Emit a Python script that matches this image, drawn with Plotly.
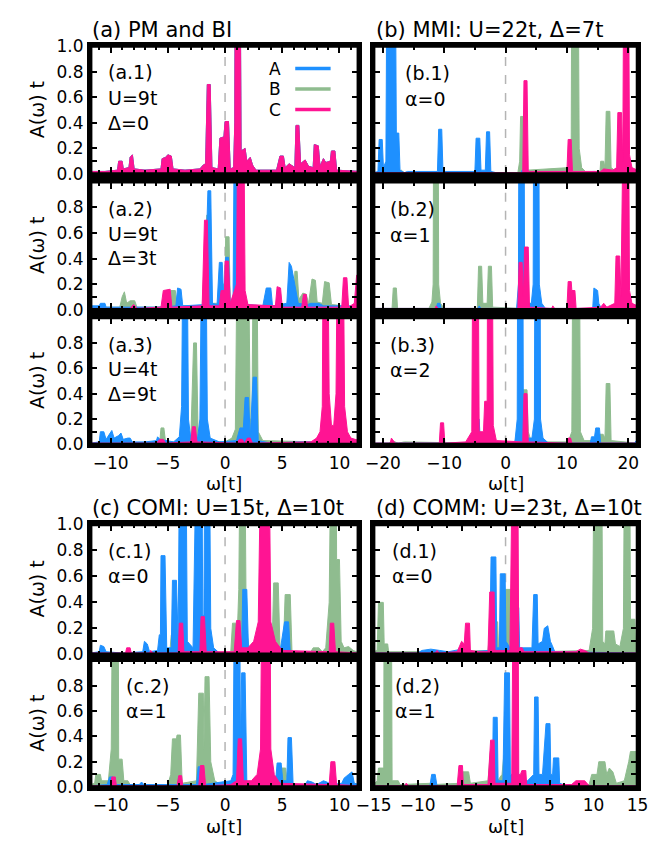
import plotly.graph_objects as go

W, H = 659, 842
FONT = "DejaVu Sans, Liberation Sans, Arial, sans-serif"
BLUE, GREEN, PINK = "#1e90ff", "#8fbc8f", "#ff1493"

# ---- spectral functions A(w)t, sampled as (w, A) points; peaks taller than 1 run off the top ----
# (a.1) paramagnet: all three sublattices are identical
a1_ABC = [(-11.75, 0.02), (-10.5, 0.02), (-9.4, 0.03), (-9.3, 0.10), (-9.0, 0.10), (-8.9, 0.04), (-8.4, 0.05),
          (-8.3, 0.13), (-8.1, 0.15), (-7.95, 0.04), (-7.0, 0.03), (-5.6, 0.04), (-5.5, 0.12), (-5.2, 0.13),
          (-5.0, 0.15), (-4.7, 0.14), (-4.55, 0.04), (-3.5, 0.03), (-2.2, 0.04), (-1.9, 0.07), (-1.7, 0.08),
          (-1.55, 0.70), (-1.3, 0.70), (-1.15, 0.05), (-0.6, 0.04), (-0.45, 0.28), (-0.1, 0.29), (0.0, 0.41),
          (0.3, 0.41), (0.45, 0.04), (0.75, 0.05), (0.85, 0.4), (0.9, 2.0), (1.3, 2.0), (1.4, 0.18), (1.6, 0.19),
          (1.75, 0.2), (1.9, 0.1), (2.2, 0.13), (2.4, 0.07), (2.7, 0.03), (4.5, 0.03), (4.8, 0.14), (5.1, 0.14),
          (5.25, 0.05), (5.6, 0.08), (5.9, 0.06), (6.1, 0.05), (6.2, 0.38), (6.45, 0.38), (6.6, 0.08), (7.0, 0.11),
          (7.3, 0.06), (7.7, 0.05), (7.8, 0.23), (8.15, 0.22), (8.3, 0.06), (8.6, 0.12), (8.8, 0.09), (9.2, 0.1),
          (9.3, 0.18), (9.6, 0.18), (9.75, 0.03), (11.75, 0.02)]

a2_A = [(-11.75, 0.03), (-11.0, 0.03), (-10.9, 0.05), (-10.5, 0.05), (-10.4, 0.02), (-8.0, 0.02), (-5.5, 0.02),
        (-4.3, 0.03), (-4.15, 0.17), (-3.85, 0.16), (-3.7, 0.03), (-1.8, 0.04), (-1.5, 0.93), (-1.25, 0.93),
        (-1.1, 0.05), (-0.7, 0.04), (-0.5, 0.37), (-0.25, 0.37), (-0.1, 0.05), (0.05, 0.41), (0.3, 0.41),
        (0.45, 0.05), (0.7, 0.1), (0.85, 2.0), (1.2, 2.0), (1.35, 0.1), (2.0, 0.04), (3.3, 0.03), (3.6, 0.17),
        (4.0, 0.17), (4.15, 0.03), (5.4, 0.05), (5.6, 0.37), (5.8, 0.34), (6.1, 0.2), (6.4, 0.05), (7.2, 0.04),
        (7.5, 0.05), (8.2, 0.05), (8.6, 0.03), (11.75, 0.03)]
a2_B = [(-11.75, 0.02), (-9.2, 0.02), (-9.0, 0.1), (-8.8, 0.14), (-8.6, 0.05), (-8.3, 0.07), (-7.9, 0.07),
        (-7.7, 0.02), (-6.0, 0.02), (-4.9, 0.03), (-4.75, 0.15), (-4.35, 0.15), (-4.2, 0.03), (-2.0, 0.03),
        (-1.6, 0.74), (-1.3, 0.74), (-1.15, 0.05), (-0.4, 0.05), (-0.3, 0.2), (0.0, 0.2), (0.05, 0.57),
        (0.35, 0.57), (0.45, 0.05), (1.0, 0.1), (1.4, 0.1), (1.8, 0.03), (6.0, 0.03), (6.1, 0.3), (6.3, 0.3),
        (6.45, 0.08), (6.8, 0.13), (7.1, 0.12), (7.3, 0.05), (7.6, 0.24), (7.9, 0.23), (8.05, 0.06), (8.5, 0.05),
        (8.7, 0.22), (9.1, 0.21), (9.3, 0.04), (11.75, 0.02)]
a2_C = [(-11.75, 0.01), (-8.3, 0.01), (-8.0, 0.04), (-7.7, 0.01), (-5.6, 0.02), (-5.4, 0.15), (-4.8, 0.16),
        (-4.65, 0.02), (-2.0, 0.03), (-1.8, 0.70), (-1.55, 0.70), (-1.4, 0.03), (-0.5, 0.03), (-0.35, 0.15),
        (-0.05, 0.15), (0.0, 0.38), (0.3, 0.38), (0.45, 0.05), (1.0, 0.2), (1.15, 2.0), (1.6, 2.0), (1.75, 0.15),
        (2.0, 0.04), (4.4, 0.03), (4.55, 0.18), (4.85, 0.17), (5.0, 0.02), (6.7, 0.02), (6.85, 0.12), (7.1, 0.12),
        (7.2, 0.02), (10.2, 0.02), (10.35, 0.25), (10.65, 0.25), (10.8, 0.02), (11.3, 0.05), (11.5, 0.27),
        (11.75, 0.28)]

a3_A = [(-11.75, 0.01), (-11.0, 0.02), (-10.9, 0.10), (-10.6, 0.10), (-10.4, 0.04), (-10.1, 0.08), (-9.9, 0.11),
        (-9.7, 0.05), (-9.3, 0.07), (-9.1, 0.09), (-8.9, 0.04), (-8.5, 0.05), (-8.3, 0.05), (-8.1, 0.02),
        (-7.0, 0.02), (-6.0, 0.03), (-5.9, 0.06), (-5.7, 0.04), (-4.5, 0.02), (-4.0, 0.06), (-3.8, 0.3),
        (-3.65, 2.0), (-3.35, 2.0), (-3.2, 0.2), (-3.0, 0.05), (-2.4, 0.05), (-2.2, 0.2), (-2.0, 2.0),
        (-1.7, 2.0), (-1.55, 0.2), (-1.3, 0.05), (-0.5, 0.02), (1.0, 0.03), (1.3, 0.13), (1.6, 0.13),
        (1.75, 0.37), (2.05, 0.37), (2.2, 0.05), (2.45, 0.53), (2.75, 0.53), (2.9, 0.03), (4.0, 0.01),
        (6.5, 0.02), (9.5, 0.02), (9.65, 0.09), (9.9, 0.09), (10.0, 0.02), (11.75, 0.01)]
a3_B = [(-11.75, 0.01), (-6.0, 0.01), (-5.7, 0.03), (-5.6, 0.13), (-5.35, 0.13), (-5.2, 0.02), (-3.0, 0.02),
        (-2.75, 0.8), (-2.5, 0.8), (-2.35, 0.03), (0.0, 0.02), (0.6, 0.05), (0.9, 0.12), (1.1, 2.0), (2.0, 2.0),
        (2.2, 0.2), (2.35, 0.2), (2.5, 2.0), (2.75, 2.0), (2.9, 0.1), (3.3, 0.03), (8.0, 0.02), (8.7, 0.05),
        (8.8, 0.13), (9.0, 0.13), (9.2, 0.05), (9.8, 0.05), (9.95, 0.25), (10.2, 0.25), (10.35, 0.04),
        (11.75, 0.01)]
a3_C = [(-11.75, 0.01), (-6.0, 0.01), (-5.7, 0.04), (-5.4, 0.04), (-5.2, 0.01), (-3.0, 0.02), (-2.85, 0.14),
        (-2.6, 0.14), (-2.45, 0.02), (1.0, 0.01), (1.25, 0.04), (1.5, 0.04), (1.7, 0.01), (1.95, 0.05),
        (2.2, 0.05), (2.4, 0.01), (7.5, 0.02), (8.0, 0.05), (8.3, 0.1), (8.5, 0.3), (8.6, 2.0), (8.95, 2.0),
        (9.1, 0.4), (9.3, 0.15), (9.5, 0.15), (9.7, 0.4), (9.85, 2.0), (10.3, 2.0), (10.45, 0.3), (10.7, 0.1),
        (11.0, 0.05), (11.75, 0.03)]

b1_A = [(-21.5, 0.01), (-20.8, 0.02), (-20.6, 0.27), (-20.1, 0.27), (-19.9, 0.05), (-19.5, 0.1), (-19.3, 2.0),
        (-18.0, 2.0), (-17.8, 0.32), (-17.4, 0.32), (-17.2, 0.03), (-16.5, 0.01), (-16.0, 0.02), (-11.1, 0.02),
        (-10.9, 0.35), (-10.4, 0.35), (-10.2, 0.02), (-5.0, 0.02), (-4.8, 0.28), (-4.2, 0.28), (-4.0, 0.03),
        (-3.3, 0.03), (-3.1, 0.33), (-2.6, 0.33), (-2.4, 0.02), (-1.5, 0.01), (2.5, 0.01), (2.7, 0.03),
        (3.2, 0.03), (3.4, 0.01), (14.0, 0.01), (14.2, 0.02), (14.6, 0.02), (14.8, 0.01), (21.5, 0.01)]
b1_B = [(-21.5, 0.01), (-17.5, 0.01), (-17.0, 0.03), (-16.5, 0.01), (2.0, 0.01), (2.3, 0.1), (2.45, 0.45),
        (3.0, 0.45), (3.2, 0.1), (3.5, 0.03), (10.3, 0.05), (10.7, 0.2), (10.8, 2.0), (11.8, 2.0), (12.0, 0.2),
        (12.4, 0.05), (13.0, 0.02), (15.4, 0.02), (15.5, 0.1), (16.0, 0.1), (16.2, 0.05), (16.4, 0.49),
        (17.0, 0.49), (17.2, 0.05), (18.0, 0.02), (21.5, 0.01)]
b1_C = [(-21.5, 0.01), (2.8, 0.01), (3.0, 0.73), (3.5, 0.73), (3.7, 0.02), (10.0, 0.02), (10.2, 0.27),
        (10.7, 0.27), (10.9, 0.02), (15.5, 0.02), (16.0, 0.04), (17.5, 0.03), (18.1, 0.05), (18.3, 0.48),
        (18.9, 0.48), (19.1, 0.1), (19.3, 2.0), (20.0, 2.0), (20.2, 0.15), (20.6, 0.05), (21.5, 0.03)]

b2_A = [(-21.5, 0.01), (-11.3, 0.01), (-11.1, 0.05), (-10.7, 0.05), (-10.5, 0.01), (-4.5, 0.01), (-4.3, 0.03),
        (-4.0, 0.01), (1.8, 0.01), (2.1, 0.2), (2.2, 2.0), (3.0, 2.0), (3.1, 0.2), (3.5, 0.05), (4.2, 0.05),
        (4.5, 0.2), (4.6, 2.0), (5.4, 2.0), (5.5, 0.2), (5.9, 0.05), (6.5, 0.01), (14.2, 0.01), (14.4, 0.17),
        (15.0, 0.15), (15.2, 0.05), (15.6, 0.01), (21.5, 0.01)]
b2_B = [(-21.5, 0.01), (-18.5, 0.01), (-18.3, 0.17), (-17.8, 0.17), (-17.6, 0.01), (-12.5, 0.01), (-12.0, 0.06),
        (-11.8, 0.2), (-11.7, 2.0), (-11.0, 2.0), (-10.9, 0.2), (-10.6, 0.05), (-10.0, 0.01), (-4.6, 0.01),
        (-4.4, 0.34), (-3.9, 0.34), (-3.7, 0.05), (-3.0, 0.05), (-2.8, 0.34), (-2.3, 0.34), (-2.1, 0.02),
        (2.5, 0.01), (2.9, 0.05), (3.1, 0.13), (3.6, 0.13), (3.8, 0.01), (21.5, 0.01)]
b2_C = [(-21.5, 0.01), (-11.5, 0.01), (-11.3, 0.03), (-11.0, 0.01), (2.0, 0.01), (2.2, 0.37), (2.7, 0.37),
        (2.9, 0.1), (3.1, 0.49), (3.7, 0.49), (3.9, 0.02), (7.5, 0.01), (7.7, 0.03), (8.0, 0.01), (10.0, 0.01),
        (10.2, 0.22), (10.7, 0.22), (10.8, 0.15), (11.3, 0.15), (11.5, 0.01), (15.5, 0.02), (16.0, 0.05),
        (16.5, 0.02), (17.8, 0.05), (18.0, 0.42), (18.6, 0.42), (18.8, 0.1), (19.3, 2.0), (20.0, 2.0),
        (20.2, 0.15), (20.6, 0.05), (21.5, 0.03)]

b3_A = [(-21.5, 0.01), (-5.0, 0.01), (-4.8, 0.2), (-4.3, 0.2), (-4.1, 0.01), (-2.9, 0.01), (-2.7, 0.1),
        (-2.3, 0.1), (-2.1, 0.01), (1.5, 0.01), (1.9, 0.2), (2.0, 2.0), (2.8, 2.0), (2.9, 0.2), (3.3, 0.05),
        (4.3, 0.05), (4.7, 0.2), (4.8, 2.0), (5.6, 2.0), (5.7, 0.2), (6.1, 0.05), (7.0, 0.01), (13.8, 0.01),
        (14.0, 0.06), (14.5, 0.06), (14.7, 0.13), (15.3, 0.13), (15.5, 0.01), (21.0, 0.01), (21.3, 0.03),
        (21.5, 0.03)]
b3_B = [(-21.5, 0.01), (-19.0, 0.01), (-18.5, 0.03), (-17.5, 0.01), (-16.5, 0.02), (-5.0, 0.01), (-4.8, 0.09),
        (-4.3, 0.09), (-4.1, 0.01), (-2.9, 0.01), (-2.7, 0.05), (-2.3, 0.05), (-2.1, 0.01), (1.5, 0.02),
        (2.0, 0.1), (2.3, 0.43), (3.5, 0.43), (3.7, 0.1), (4.2, 0.02), (10.2, 0.02), (10.8, 0.1), (11.0, 2.0),
        (12.0, 2.0), (12.2, 0.1), (12.8, 0.03), (15.3, 0.03), (15.4, 0.08), (15.9, 0.08), (16.2, 0.05),
        (16.4, 0.48), (17.0, 0.48), (17.2, 0.03), (21.5, 0.01)]
b3_C = [(-21.5, 0.01), (-18.8, 0.01), (-18.6, 0.05), (-18.0, 0.01), (-10.8, 0.01), (-10.6, 0.17), (-10.1, 0.17),
        (-9.9, 0.01), (-6.5, 0.02), (-5.5, 0.1), (-5.3, 2.0), (-4.5, 2.0), (-4.3, 0.1), (-3.6, 0.1), (-3.4, 0.34),
        (-3.0, 0.34), (-2.9, 2.0), (-2.2, 2.0), (-2.0, 0.15), (-1.5, 0.03), (2.8, 0.02), (3.0, 0.4), (3.5, 0.4),
        (3.7, 0.02), (10.0, 0.01), (10.2, 0.05), (10.6, 0.05), (10.8, 0.01), (21.5, 0.01)]

c1_A = [(-11.75, 0.01), (-11.0, 0.02), (-10.9, 0.07), (-10.6, 0.06), (-10.4, 0.02), (-9.0, 0.01), (-7.2, 0.02),
        (-7.05, 0.1), (-6.8, 0.08), (-6.6, 0.02), (-5.9, 0.03), (-5.75, 0.15), (-5.65, 0.15), (-5.6, 0.76),
        (-5.25, 0.76), (-5.1, 0.05), (-4.7, 0.05), (-4.6, 0.57), (-4.25, 0.57), (-4.1, 0.1), (-3.95, 2.0),
        (-3.45, 2.0), (-3.3, 0.1), (-2.8, 0.05), (-2.45, 2.0), (-2.05, 2.0), (-1.95, 0.3), (-1.85, 0.3),
        (-1.75, 2.0), (-1.4, 2.0), (-1.25, 0.2), (-1.0, 0.05), (-0.5, 0.01), (1.0, 0.01), (1.45, 0.05),
        (1.55, 0.5), (1.9, 0.5), (2.05, 0.03), (4.8, 0.02), (5.2, 0.25), (5.55, 0.25), (5.7, 0.02), (7.0, 0.01),
        (11.75, 0.01)]
c1_B = [(-11.75, 0.01), (-8.0, 0.01), (-5.0, 0.02), (-4.8, 0.05), (-4.7, 0.15), (-4.4, 0.15), (-4.25, 0.02),
        (-2.0, 0.01), (0.5, 0.02), (0.65, 0.24), (1.1, 0.24), (1.2, 0.5), (1.35, 2.0), (1.7, 2.0), (1.85, 0.2),
        (2.1, 0.05), (2.5, 0.02), (4.1, 0.02), (4.25, 0.55), (4.65, 0.55), (4.8, 0.05), (5.1, 0.05),
        (5.25, 0.46), (5.7, 0.46), (5.85, 0.02), (7.5, 0.02), (7.7, 0.05), (8.2, 0.05), (8.5, 0.02), (8.8, 0.05),
        (9.1, 0.4), (9.3, 2.0), (9.7, 2.0), (9.75, 0.73), (10.0, 0.73), (10.15, 0.1), (10.4, 0.05), (10.8, 0.06),
        (11.2, 0.03), (11.75, 0.01)]
c1_C = [(-11.75, 0.01), (-8.7, 0.01), (-8.6, 0.05), (-8.3, 0.05), (-8.2, 0.01), (-6.6, 0.01), (-6.5, 0.03),
        (-6.3, 0.01), (-4.1, 0.01), (-4.0, 0.24), (-3.7, 0.24), (-3.6, 0.02), (-2.2, 0.02), (-2.1, 0.29),
        (-1.8, 0.29), (-1.65, 0.02), (0.8, 0.02), (1.0, 0.26), (1.3, 0.26), (1.45, 0.05), (2.0, 0.05), (2.5, 0.1),
        (2.9, 0.25), (3.2, 2.0), (3.8, 2.0), (4.0, 0.25), (4.4, 0.1), (5.0, 0.03), (9.1, 0.02), (9.2, 0.24),
        (9.5, 0.24), (9.65, 0.02), (11.75, 0.01)]

c2_A = [(-11.75, 0.01), (-10.3, 0.02), (-10.1, 0.08), (-9.8, 0.08), (-9.6, 0.02), (-7.5, 0.02), (-7.3, 0.04),
        (-7.1, 0.02), (-2.5, 0.02), (-2.35, 0.16), (-2.05, 0.16), (-1.9, 0.02), (0.5, 0.05), (0.7, 0.1),
        (0.85, 2.0), (1.25, 2.0), (1.35, 0.3), (1.45, 0.9), (1.75, 0.9), (1.9, 0.05), (2.3, 0.02), (4.4, 0.02),
        (4.55, 0.19), (4.9, 0.19), (5.05, 0.05), (5.4, 0.05), (5.5, 0.39), (5.8, 0.39), (5.95, 0.02), (7.0, 0.02),
        (7.2, 0.05), (7.6, 0.04), (8.0, 0.02), (8.6, 0.05), (8.9, 0.04), (9.3, 0.02), (10.2, 0.03), (10.4, 0.07),
        (10.8, 0.1), (11.1, 0.12), (11.3, 0.03), (11.75, 0.02)]
c2_B = [(-11.75, 0.02), (-11.4, 0.03), (-11.3, 0.1), (-10.9, 0.1), (-10.8, 0.05), (-10.2, 0.05), (-9.95, 0.3),
        (-9.8, 2.0), (-9.35, 2.0), (-9.3, 0.22), (-9.0, 0.22), (-8.85, 0.05), (-8.5, 0.05), (-8.3, 0.02),
        (-5.0, 0.02), (-4.75, 0.1), (-4.6, 0.38), (-4.25, 0.38), (-4.2, 0.41), (-3.9, 0.41), (-3.75, 0.03),
        (-2.5, 0.05), (-2.3, 0.74), (-1.9, 0.74), (-1.85, 0.3), (-1.75, 0.87), (-1.4, 0.87), (-1.25, 0.2),
        (-0.9, 0.05), (-0.4, 0.02), (4.7, 0.02), (4.9, 0.15), (5.3, 0.15), (5.45, 0.02), (11.75, 0.01)]
c2_C = [(-11.75, 0.01), (-10.0, 0.01), (-9.9, 0.08), (-9.6, 0.08), (-9.5, 0.01), (-4.2, 0.01), (-4.05, 0.09),
        (-3.8, 0.09), (-3.7, 0.01), (-2.3, 0.01), (-2.15, 0.17), (-1.85, 0.17), (-1.7, 0.01), (0.5, 0.02),
        (1.0, 0.05), (1.15, 0.38), (1.45, 0.38), (1.6, 0.05), (2.3, 0.05), (2.8, 0.1), (3.1, 0.3), (3.25, 2.0),
        (3.9, 2.0), (4.0, 0.3), (4.3, 0.1), (4.8, 0.03), (9.1, 0.02), (9.25, 0.2), (9.6, 0.2), (9.75, 0.02),
        (11.75, 0.01)]

d1_A = [(-15.0, 0.01), (-10.0, 0.01), (-9.5, 0.03), (-8.5, 0.04), (-7.5, 0.03), (-6.5, 0.02), (-5.0, 0.04),
        (-4.3, 0.05), (-3.8, 0.02), (-2.5, 0.03), (-1.8, 0.03), (-1.65, 0.75), (-1.1, 0.75), (-1.0, 0.05),
        (-0.7, 0.05), (-0.6, 0.62), (-0.05, 0.62), (0.05, 0.1), (0.5, 0.05), (0.9, 0.1), (1.05, 0.36),
        (1.5, 0.36), (1.6, 0.05), (3.0, 0.05), (3.2, 0.46), (3.6, 0.46), (3.7, 0.08), (4.2, 0.1), (4.4, 0.2),
        (4.8, 0.22), (5.1, 0.1), (5.3, 0.07), (5.6, 0.02), (15.0, 0.01)]
d1_B = [(-15.0, 0.02), (-14.6, 0.03), (-14.45, 0.4), (-13.9, 0.4), (-13.8, 0.08), (-13.4, 0.08), (-13.3, 0.02),
        (-6.0, 0.02), (-2.0, 0.03), (-1.7, 0.25), (-0.9, 0.25), (-0.8, 0.05), (-0.4, 0.05), (-0.1, 0.5),
        (0.6, 0.5), (0.75, 0.1), (1.0, 0.1), (1.3, 0.03), (4.0, 0.02), (9.5, 0.03), (9.9, 0.2), (10.1, 2.0),
        (10.9, 2.0), (11.05, 0.1), (11.3, 0.08), (11.4, 0.18), (12.3, 0.18), (12.5, 0.08), (13.0, 0.06),
        (13.4, 0.2), (13.55, 2.0), (14.1, 2.0), (14.2, 0.27), (14.7, 0.27), (14.8, 0.05), (15.0, 0.05)]
d1_C = [(-15.0, 0.01), (-8.0, 0.01), (-7.8, 0.03), (-7.5, 0.01), (-5.5, 0.02), (-5.0, 0.1), (-4.7, 0.08),
        (-4.55, 0.24), (-4.1, 0.24), (-4.0, 0.03), (-3.0, 0.02), (-2.0, 0.02), (-1.8, 0.48), (-1.3, 0.48),
        (-1.2, 0.03), (0.5, 0.03), (0.85, 2.0), (1.35, 2.0), (1.5, 0.05), (1.9, 0.05), (2.1, 0.02), (8.0, 0.02),
        (8.5, 0.04), (9.0, 0.03), (9.5, 0.01), (15.0, 0.01)]

d2_A = [(-15.0, 0.01), (-8.6, 0.01), (-8.4, 0.1), (-8.0, 0.1), (-7.8, 0.01), (-3.5, 0.01), (-3.3, 0.03),
        (-3.0, 0.01), (-1.5, 0.02), (-1.4, 0.55), (-0.95, 0.55), (-0.85, 0.05), (-0.3, 0.05), (-0.1, 0.9),
        (0.45, 0.9), (0.55, 0.1), (0.85, 0.1), (0.95, 0.45), (1.35, 0.45), (1.45, 0.05), (2.5, 0.05), (3.2, 0.1),
        (3.3, 0.71), (3.7, 0.71), (3.8, 0.1), (4.2, 0.1), (4.6, 0.5), (5.05, 0.5), (5.15, 0.1), (5.35, 0.1),
        (5.45, 0.23), (6.05, 0.23), (6.15, 0.03), (7.0, 0.01), (15.0, 0.01)]
d2_B = [(-15.0, 0.02), (-14.6, 0.05), (-14.45, 0.15), (-13.85, 0.15), (-13.8, 2.0), (-13.0, 2.0), (-12.9, 0.05),
        (-12.2, 0.05), (-12.0, 0.02), (-8.5, 0.03), (-8.2, 0.02), (-5.2, 0.03), (-5.0, 0.12), (-4.2, 0.12),
        (-4.0, 0.03), (-2.0, 0.05), (-1.7, 0.3), (-1.1, 0.3), (-0.9, 0.05), (-0.4, 0.1), (-0.2, 0.25),
        (0.3, 0.25), (0.5, 0.05), (1.0, 0.15), (1.5, 0.1), (1.8, 0.02), (9.5, 0.02), (9.8, 0.1), (10.4, 0.1),
        (10.6, 0.2), (11.3, 0.2), (11.5, 0.1), (11.8, 0.15), (12.2, 0.12), (12.6, 0.03), (13.5, 0.05),
        (14.0, 0.2), (14.2, 0.28), (15.0, 0.28)]
d2_C = [(-15.0, 0.01), (-11.5, 0.01), (-11.3, 0.03), (-11.0, 0.01), (-5.5, 0.01), (-5.3, 0.17), (-4.9, 0.17),
        (-4.8, 0.02), (-2.0, 0.02), (-1.7, 0.37), (-1.3, 0.37), (-1.2, 0.03), (0.7, 0.03), (0.9, 2.0),
        (1.4, 2.0), (1.5, 0.1), (1.7, 0.1), (1.85, 0.13), (2.3, 0.13), (2.4, 0.02), (7.5, 0.02), (8.0, 0.05),
        (9.0, 0.05), (9.5, 0.01), (15.0, 0.01)]

# ---- axis ranges and ticks per column group ----
X_AC = dict(range=[-11.75, 11.65], tickvals=[-10, -5, 0, 5, 10], minor_dtick=1)
X_B = dict(range=[-21.5, 21.5], tickvals=[-20, -10, 0, 10, 20], minor_dtick=5)
X_D = dict(range=[-15, 15], tickvals=[-15, -10, -5, 0, 5, 10, 15], minor_dtick=5 / 3)
Y_TICKS = [0, 0.2, 0.4, 0.6, 0.8, 1.0]

# pixel frame of each panel: (left, right) and (top, bottom)
COL_L, COL_R = (76, 356), (372, 648)
ROWS = [(37, 168), (176, 307), (315, 445), (527, 660), (666, 796)]

# panel: series (A, B, C), column, row, x-ticks, top-of-group?, bottom-of-group?, label lines, label x, label y's
panels = [
    ((a1_ABC, a1_ABC, a1_ABC), COL_L, 0, X_AC, True, False, ["(a.1)", "U=9t", "Δ=0"], 92, [64, 90, 116]),
    ((a2_A, a2_B, a2_C), COL_L, 1, X_AC, False, False, ["(a.2)", "U=9t", "Δ=3t"], 92, [204, 229, 254]),
    ((a3_A, a3_B, a3_C), COL_L, 2, X_AC, False, True, ["(a.3)", "U=4t", "Δ=9t"], 92, [343, 368, 393]),
    ((b1_A, b1_B, b1_C), COL_R, 0, X_B, True, False, ["(b.1)", "α=0"], 403, [65, 91]),
    ((b2_A, b2_B, b2_C), COL_R, 1, X_B, False, False, ["(b.2)", "α=1"], 387, [204, 230]),
    ((b3_A, b3_B, b3_C), COL_R, 2, X_B, False, True, ["(b.3)", "α=2"], 387, [343, 369]),
    ((c1_A, c1_B, c1_C), COL_L, 3, X_AC, True, False, ["(c.1)", "α=0"], 92, [554, 580]),
    ((c2_A, c2_B, c2_C), COL_L, 4, X_AC, False, True, ["(c.2)", "α=1"], 111, [692, 718]),
    ((d1_A, d1_B, d1_C), COL_R, 3, X_D, True, False, ["(d.1)", "α=0"], 389, [554, 580]),
    ((d2_A, d2_B, d2_C), COL_R, 4, X_D, False, True, ["(d.2)", "α=1"], 392, [692, 718]),
]


def fx(p):
    return p / W


def fy(p):
    return 1 - p / H


fig = go.Figure()
annotations, shapes = [], []
layout = {}
TICK_FONT = dict(size=17, color="black", family=FONT)

for i, (series, col, row, xt, is_top, is_bottom, labels, lx, lys) in enumerate(panels, start=1):
    xa = "x" if i == 1 else f"x{i}"
    ya = "y" if i == 1 else f"y{i}"
    xkey = "xaxis" if i == 1 else f"xaxis{i}"
    ykey = "yaxis" if i == 1 else f"yaxis{i}"
    top, bot = ROWS[row]

    # draw order: B under A under C
    for pts, color in ((series[1], GREEN), (series[0], BLUE), (series[2], PINK)):
        fig.add_trace(go.Scatter(
            x=[p[0] for p in pts], y=[p[1] for p in pts], xaxis=xa, yaxis=ya,
            mode="lines", fill="tozeroy", fillcolor=color,
            line=dict(color=color, width=1), showlegend=False, hoverinfo="skip"))

    layout[xkey] = dict(
        domain=[fx(col[0]), fx(col[1])], range=xt["range"], anchor=ya,
        tickmode="array", tickvals=xt["tickvals"], showticklabels=is_bottom,
        ticks="inside", ticklen=7, tickwidth=2, tickcolor="black",
        minor=dict(dtick=xt["minor_dtick"], tick0=0, ticks="inside", ticklen=4, tickwidth=1.5,
                   tickcolor="black", showgrid=False),
        showline=True, linewidth=3.5, linecolor="black", mirror="allticks",
        showgrid=False, zeroline=False, tickfont=TICK_FONT)
    ytext = ["0.0", "0.2", "0.4", "0.6", "0.8", "1.0" if is_top else ""]
    layout[ykey] = dict(
        domain=[fy(bot), fy(top)], range=[0, 1], anchor=xa,
        tickmode="array", tickvals=Y_TICKS, ticktext=ytext, showticklabels=(col == COL_L),
        ticks="inside", ticklen=7, tickwidth=2, tickcolor="black",
        minor=dict(tickvals=[0.1], ticks="inside", ticklen=7, tickwidth=2, tickcolor="black", showgrid=False),
        showline=True, linewidth=3.5, linecolor="black", mirror="allticks",
        showgrid=False, zeroline=False, tickfont=TICK_FONT)

    # frame and the dashed w = 0 guide
    shapes.append(dict(type="rect", xref=f"{xa} domain", yref=f"{ya} domain", x0=0, x1=1, y0=0, y1=1,
                       line=dict(color="black", width=3.5), layer="above"))
    shapes.append(dict(type="line", xref=xa, yref=f"{ya} domain", x0=0, x1=0, y0=0, y1=1,
                       line=dict(color="#b4b4b4", width=1.5, dash="dash"), layer="below"))

    for text, ly in zip(labels, lys):
        annotations.append(dict(text=text, x=fx(lx), y=fy(ly), xref="paper", yref="paper",
                                xanchor="left", yanchor="middle", showarrow=False,
                                font=dict(size=19, color="black", family=FONT)))
    if col == COL_L:
        annotations.append(dict(text="A(ω) t", x=fx(20), y=fy((top + bot) / 2), xref="paper", yref="paper",
                                textangle=-90, xanchor="center", yanchor="middle", showarrow=False,
                                font=dict(size=19, color="black", family=FONT)))
    if is_bottom:
        annotations.append(dict(text="ω[t]", x=fx(216 if col == COL_L else 510),
                                y=fy(bot + 40), xref="paper", yref="paper",
                                xanchor="center", yanchor="middle", showarrow=False,
                                font=dict(size=18, color="black", family=FONT)))

# group titles
for text, x, y in (("(a) PM and BI", 75, 20), ("(b) MMI: U=22t, Δ=7t", 372, 20),
                   ("(c) COMI: U=15t, Δ=10t", 75, 510), ("(d) COMM: U=23t, Δ=10t", 372, 510)):
    annotations.append(dict(text=text, x=fx(x), y=fy(y), xref="paper", yref="paper", xanchor="left",
                            yanchor="middle", showarrow=False, font=dict(size=21, color="black", family=FONT)))

# key for the three sublattices
for name, color, y in (("A", BLUE, 60), ("B", GREEN, 81), ("C", PINK, 102)):
    annotations.append(dict(text=name, x=fx(269), y=fy(y), xref="paper", yref="paper", xanchor="center",
                            yanchor="middle", showarrow=False, borderpad=0,
                            font=dict(size=17, color="black", family=FONT)))
    shapes.append(dict(type="line", xref="paper", yref="paper", x0=fx(290), x1=fx(327), y0=fy(y), y1=fy(y),
                       line=dict(color=color, width=3.5)))

fig.update_layout(width=W, height=H, margin=dict(l=0, r=0, t=0, b=0), paper_bgcolor="white",
                  plot_bgcolor="white", font=dict(family=FONT, color="black"),
                  annotations=annotations, shapes=shapes, **layout)

fig.write_html("out.html")
